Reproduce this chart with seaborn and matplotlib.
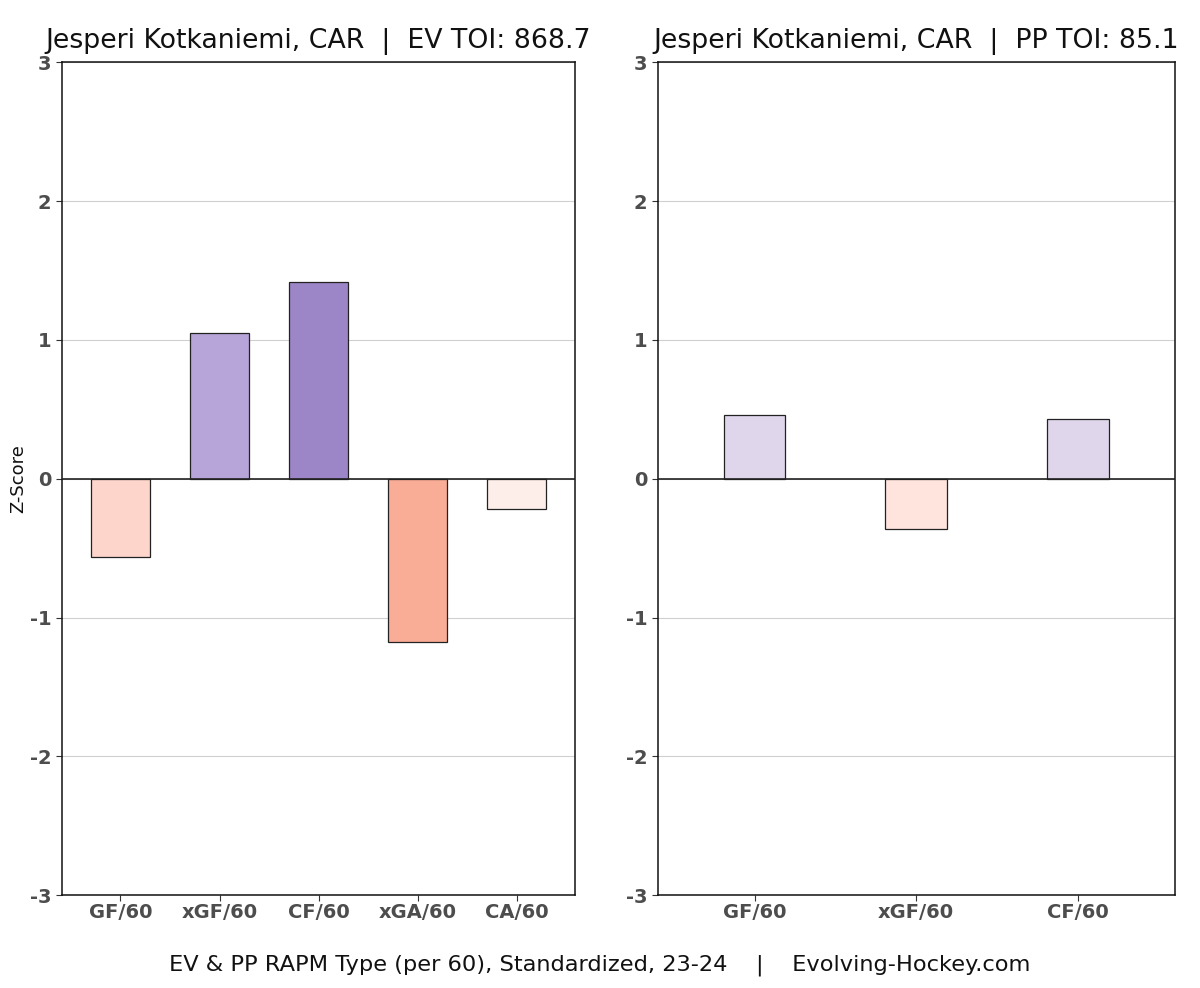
import matplotlib
matplotlib.use("Agg")
import matplotlib.pyplot as plt
import seaborn as sns
import pandas as pd

ev_categories = ["GF/60", "xGF/60", "CF/60", "xGA/60", "CA/60"]
ev_values = [-0.565, 1.05, 1.42, -1.18, -0.22]
ev_colors = ["#FDD5CB", "#B7A4D8", "#9D86C7", "#F9AC96", "#FEEEE9"]

pp_categories = ["GF/60", "xGF/60", "CF/60"]
pp_values = [0.46, -0.36, 0.43]
pp_colors = ["#DFD6EC", "#FEE4DD", "#DFD6EC"]

ev_title = "Jesperi Kotkaniemi, CAR  |  EV TOI: 868.7"
pp_title = "Jesperi Kotkaniemi, CAR  |  PP TOI: 85.1"
caption = "EV & PP RAPM Type (per 60), Standardized, 23-24    |    Evolving-Hockey.com"
y_ticks = [-3, -2, -1, 0, 1, 2, 3]

sns.set_theme(style="white")
plt.rcParams['font.family'] = ['DejaVu Sans']

fig = plt.figure(figsize=(12, 9.88), dpi=100)
ax1 = fig.add_axes([0.0517, 0.094, 0.4275, 0.843])
ax2 = fig.add_axes([0.548, 0.094, 0.431, 0.843])

def draw(ax, cats, vals, cols, width, title, xpad):
    df = pd.DataFrame({"cat": cats, "val": vals})
    sns.barplot(data=df, x="cat", y="val", hue="cat", palette=dict(zip(cats, cols)),
                order=cats, hue_order=cats, width=width, dodge=False, legend=False,
                saturation=1, edgecolor="#222222", linewidth=0.9, ax=ax, zorder=3)
    ax.axhline(0, color="#222222", linewidth=1.2, zorder=4)
    ax.set_ylim(-3, 3)
    ax.set_xlim(-xpad, len(cats) - 1 + xpad)
    ax.set_yticks(y_ticks)
    ax.set_yticklabels([str(t) for t in y_ticks])
    ax.yaxis.grid(True, color="#D0D0D0", linewidth=0.8, zorder=0)
    ax.xaxis.grid(False)
    ax.set_axisbelow(True)
    for s in ax.spines.values():
        s.set_visible(True)
        s.set_color("#111111")
        s.set_linewidth(1.1)
    ax.tick_params(axis="both", which="major", length=4, width=0.8, color="#333333",
                   labelsize=14, labelcolor="#4D4D4D", bottom=True, left=True)
    ax.tick_params(axis="x", pad=2)
    for lab in ax.get_xticklabels() + ax.get_yticklabels():
        lab.set_fontweight("bold")
    ax.set_xlabel("")
    ax.set_title(title, fontsize=19.3, color="#111111", pad=10)

draw(ax1, ev_categories, ev_values, ev_colors, 0.6, ev_title, 0.59)
draw(ax2, pp_categories, pp_values, pp_colors, 0.38, pp_title, 0.6)
ax1.set_ylabel("Z-Score", fontsize=13, color="#111111", labelpad=2)
ax2.set_ylabel("")

fig.text(0.5, 1 - 965 / 988, caption, ha="center", va="center", fontsize=16.2, color="#111111")

fig.savefig("out.png", dpi=100)
